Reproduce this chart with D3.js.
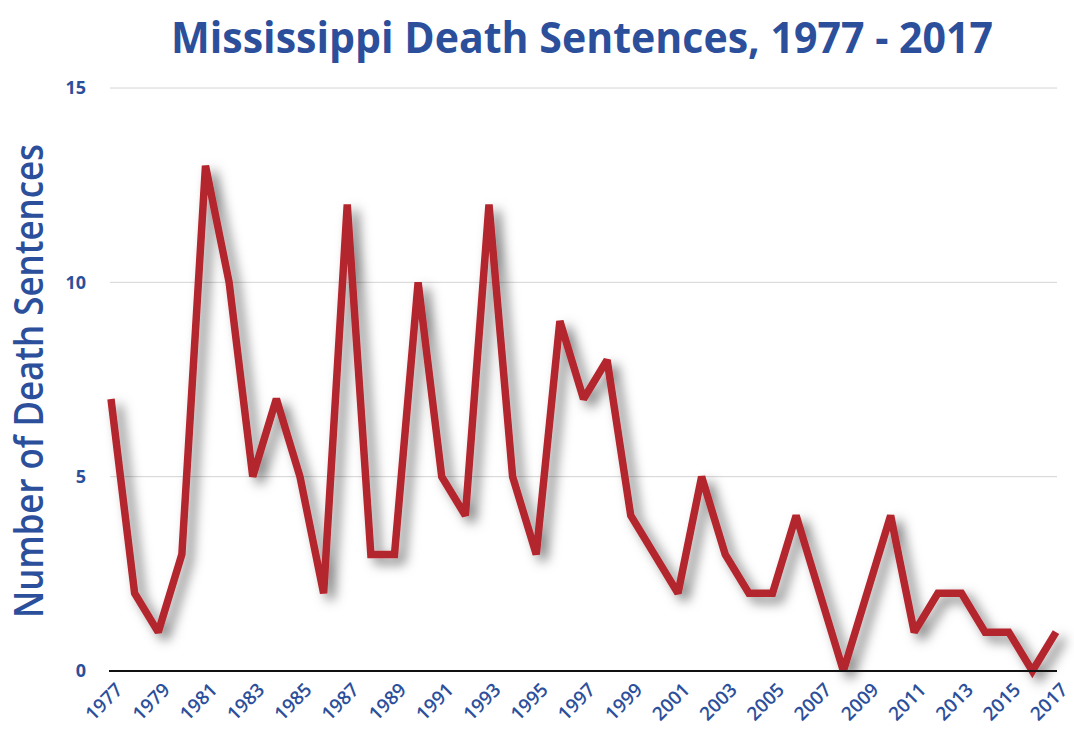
<!DOCTYPE html>
<html>
<head>
<meta charset="utf-8">
<script src="https://cdn.jsdelivr.net/npm/d3@7"></script>
<style>
  html, body { margin: 0; padding: 0; background: #fff; }
  svg { display: block; }
</style>
</head>
<body>
<svg id="chart" width="1074" height="729"></svg>
<script>
const years = d3.range(1977, 2018);
const sentences = [7, 2, 1, 3, 13, 10, 5, 7, 5, 2,
                   12, 3, 3, 10, 5, 4, 12, 5, 3, 9,
                   7, 8, 4, 3, 2, 5, 3, 2, 2, 4,
                   2, 0, 2, 4, 1, 2, 2, 1, 1, 0, 1];
const yTicks = [0, 5, 10, 15];
const xTickYears = years.filter(y => (y - 1977) % 2 === 0);

const titleText = "Mississippi Death Sentences, 1977 - 2017";
const yTitleText = "Number of Death Sentences";

const blue = "#2c4f9c";
const red = "#b4262f";
const font = "'Open Sans', 'Noto Sans', sans-serif";

const svg = d3.select("#chart");

const x = d3.scaleLinear().domain([1977, 2017]).range([111, 1056]);
const y = d3.scaleLinear().domain([0, 15]).range([671, 88]);

// drop-shadow filter
const defs = svg.append("defs");
const f = defs.append("filter").attr("id", "shadow")
  .attr("x", "-10%").attr("y", "-10%").attr("width", "130%").attr("height", "130%");
f.append("feDropShadow").attr("dx", 7).attr("dy", 6).attr("stdDeviation", 6)
  .attr("flood-color", "#000").attr("flood-opacity", 0.5);

// gridlines
svg.append("g").selectAll("line").data(yTicks.filter(d => d > 0)).join("line")
  .attr("x1", 110).attr("x2", 1057)
  .attr("y1", d => y(d)).attr("y2", d => y(d))
  .attr("stroke", "#d4d4d4").attr("stroke-width", 1);

// y tick labels
svg.append("g").selectAll("text").data(yTicks).join("text")
  .attr("x", 86).attr("y", d => y(d))
  .attr("dy", "0.36em")
  .attr("text-anchor", "end")
  .attr("fill", blue)
  .attr("font-family", font).attr("font-weight", 700).attr("font-size", 18)
  .text(d => d);

// line
const line = d3.line().x((d, i) => x(years[i])).y(d => y(d));
svg.append("path")
  .datum(sentences)
  .attr("d", line)
  .attr("fill", "none")
  .attr("stroke", red)
  .attr("stroke-width", 7.5)
  .attr("stroke-linejoin", "miter")
  .attr("stroke-miterlimit", 2)
  .attr("filter", "url(#shadow)");

// zero axis line
svg.append("line")
  .attr("x1", 109).attr("x2", 1057)
  .attr("y1", y(0)).attr("y2", y(0))
  .attr("stroke", "#111").attr("stroke-width", 2);

// x tick labels
svg.append("g").selectAll("text").data(xTickYears).join("text")
  .attr("transform", d => `translate(${x(d) + 13},${y(0) + 20}) rotate(-45)`)
  .attr("text-anchor", "end")
  .attr("fill", blue)
  .attr("font-family", font).attr("font-weight", 600).attr("font-size", 19)
  .text(d => d);

// title
svg.append("text")
  .attr("x", 582).attr("y", 53)
  .attr("text-anchor", "middle")
  .attr("fill", blue)
  .attr("font-family", font).attr("font-weight", 700).attr("font-size", 43)
  .attr("textLength", 822).attr("lengthAdjust", "spacingAndGlyphs")
  .text(titleText);

// y axis title
svg.append("text")
  .attr("transform", "translate(43,381) rotate(-90)")
  .attr("text-anchor", "middle")
  .attr("fill", blue)
  .attr("font-family", font).attr("font-weight", 600).attr("font-size", 39)
  .attr("textLength", 474).attr("lengthAdjust", "spacingAndGlyphs")
  .text(yTitleText);
</script>
</body>
</html>
